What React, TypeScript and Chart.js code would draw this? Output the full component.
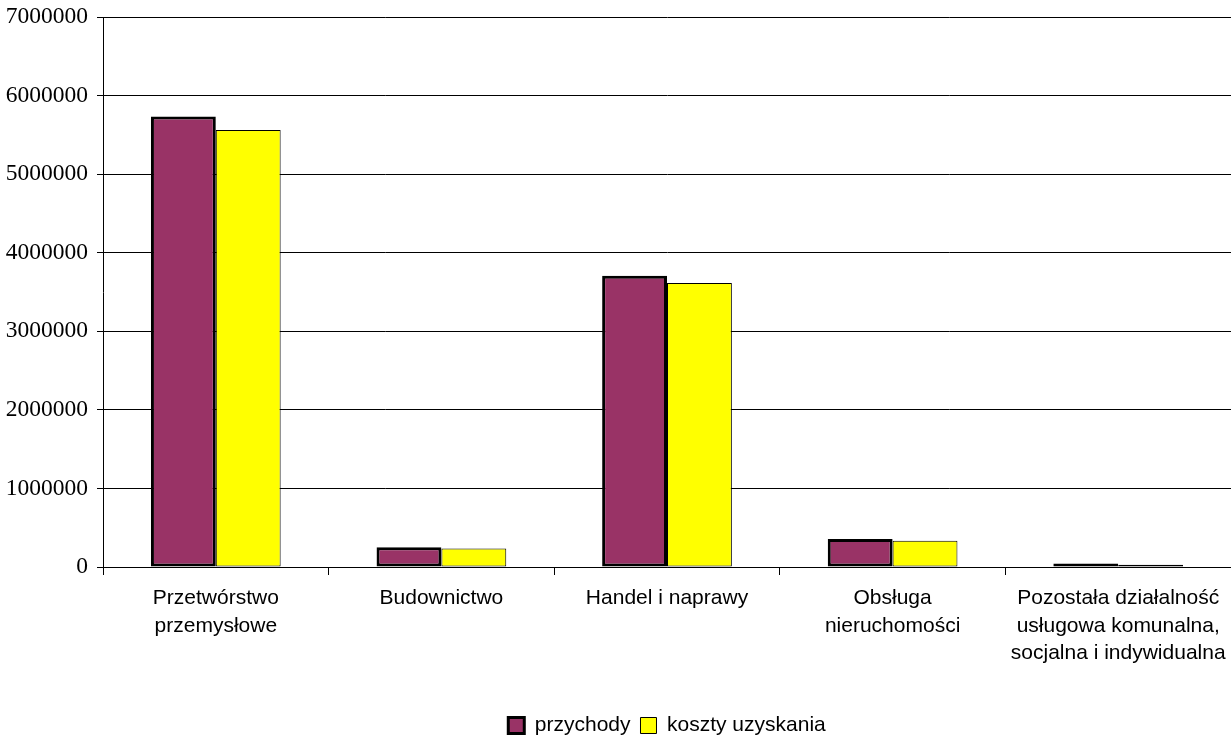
import React, { useEffect, useRef } from 'react';
import Chart from 'chart.js/auto';
import type { ChartConfiguration, Plugin } from 'chart.js';

const categories: string[][] = [
  ['Przetwórstwo', 'przemysłowe'],
  ['Budownictwo'],
  ['Handel i naprawy'],
  ['Obsługa', 'nieruchomości'],
  ['Pozostała działalność', 'usługowa komunalna,', 'socjalna i indywidualna'],
];

const przychody = [5735000, 250000, 3706000, 356000, 45000];
const kosztyUzyskania = [5563000, 236000, 3613000, 335000, 30000];

const seriesNames = ['przychody', 'koszty uzyskania'];

// center the legend under the plot area instead of the whole canvas
const legendUnderPlot: Plugin<'bar'> = {
  id: 'legendUnderPlot',
  afterLayout(chart) {
    const legend: any = (chart as any).legend;
    if (!legend) return;
    legend.left = chart.chartArea.left;
    legend.right = chart.chartArea.right;
    legend.width = chart.chartArea.right - chart.chartArea.left;
  },
};

const App: React.FC = () => {
  const chartRef = useRef<HTMLCanvasElement>(null);
  const chartInstance = useRef<Chart | null>(null);

  useEffect(() => {
    if (chartInstance.current) {
      chartInstance.current.destroy();
    }
    if (!chartRef.current) return;
    const ctx = chartRef.current.getContext('2d');
    if (!ctx) return;

    const config: ChartConfiguration<'bar'> = {
      type: 'bar',
      data: {
        labels: categories,
        datasets: [
          {
            label: seriesNames[0],
            data: przychody,
            backgroundColor: '#993366',
            borderColor: '#000000',
            borderWidth: 3,
            borderSkipped: false,
            barPercentage: 1,
            categoryPercentage: 0.575,
          },
          {
            label: seriesNames[1],
            data: kosztyUzyskania,
            backgroundColor: '#FFFF00',
            borderColor: '#000000',
            borderWidth: 1,
            borderSkipped: false,
            barPercentage: 1,
            categoryPercentage: 0.575,
          },
        ],
      },
      options: {
        responsive: true,
        maintainAspectRatio: false,
        animation: false,
        layout: {
          padding: { top: 17, right: 0, left: 0, bottom: -9 },
        },
        scales: {
          x: {
            offset: true,
            grid: {
              display: true,
              drawOnChartArea: false,
              drawTicks: true,
              tickLength: 8,
              color: '#000000',
              offset: true,
            },
            border: { display: true, color: '#000000', width: 1 },
            ticks: {
              color: '#000000',
              maxRotation: 0,
              autoSkip: false,
              padding: 10,
              font: { family: '"Liberation Sans", Arial, sans-serif', size: 21, lineHeight: 1.3 },
            },
            afterFit: (scale: any) => {
              scale.height = 138;
              scale.paddingLeft = 0;
              scale.paddingRight = 0;
            },
          },
          y: {
            min: 0,
            max: 7000000,
            grid: {
              color: '#000000',
              lineWidth: 1,
              tickLength: 6,
            },
            border: { display: true, color: '#000000', width: 1 },
            ticks: {
              stepSize: 1000000,
              color: '#000000',
              padding: 9,
              font: { family: '"Liberation Serif", "Times New Roman", serif', size: 23.5 },
              callback: (value: number | string) => String(value),
            },
            afterFit: (scale: any) => {
              scale.width = 103;
              scale.paddingTop = 0;
              scale.paddingBottom = 0;
            },
          },
        },
        plugins: {
          legend: {
            position: 'bottom',
            labels: {
              color: '#000000',
              boxWidth: 16,
              boxHeight: 16,
              padding: 10,
              font: { family: '"Liberation Sans", Arial, sans-serif', size: 21 },
            },
          },
          tooltip: { enabled: false },
        },
      },
      plugins: [legendUnderPlot],
    };

    chartInstance.current = new Chart(ctx, config);

    return () => {
      if (chartInstance.current) {
        chartInstance.current.destroy();
        chartInstance.current = null;
      }
    };
  }, []);

  return (
    <div style={{ position: 'fixed', left: 0, top: 0, width: 1231, height: 737, background: '#fff' }}>
      <canvas ref={chartRef}></canvas>
    </div>
  );
};

export default App;
